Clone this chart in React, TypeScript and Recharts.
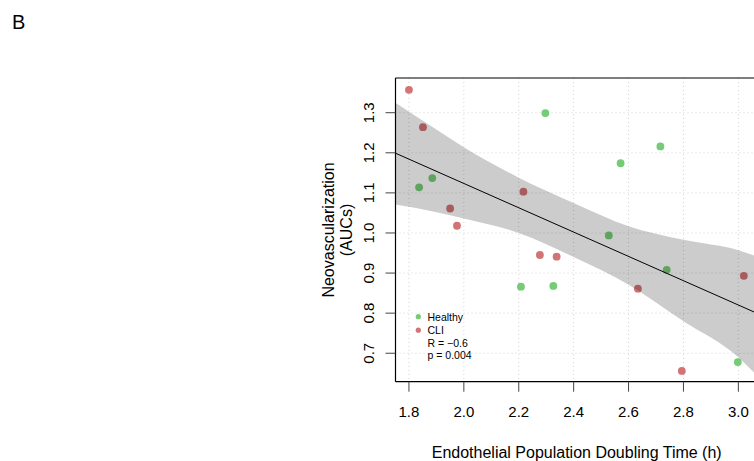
import {
  ComposedChart,
  Scatter,
  Area,
  Line,
  XAxis,
  YAxis,
  CartesianGrid,
  ReferenceLine,
} from "recharts";

const FONT = "'Liberation Sans', Arial, Helvetica, sans-serif";

// doubling time (h) vs neovascularization AUC
const healthyX = [2.297, 2.716, 2.571, 1.885, 1.837, 2.528, 2.739, 2.208, 2.326, 2.998];
const healthyY = [1.299, 1.216, 1.174, 1.137, 1.114, 0.994, 0.908, 0.866, 0.868, 0.678];
const cliX = [1.8, 1.851, 2.217, 1.95, 1.975, 2.277, 2.338, 3.02, 2.634, 2.794];
const cliY = [1.357, 1.264, 1.103, 1.061, 1.018, 0.945, 0.941, 0.893, 0.861, 0.656];

// confidence band of the linear fit, read at a few x positions
const bandX = [1.751, 1.9, 2.0, 2.2, 2.4, 2.6, 2.8, 3.0, 3.057];
const bandUpper = [1.325, 1.258, 1.214, 1.138, 1.075, 1.017, 0.983, 0.957, 0.944];
const bandLower = [1.071, 1.052, 1.036, 1.0, 0.94, 0.871, 0.78, 0.69, 0.652];

// fitted line end points
const fitX = [1.751, 3.057];
const fitY = [1.199, 0.803];

const xTicks = [1.8, 2.0, 2.2, 2.4, 2.6, 2.8, 3.0];
const yTicks = [0.7, 0.8, 0.9, 1.0, 1.1, 1.2, 1.3];
const xDomain = [1.751, 3.057];
const yDomain = [0.629, 1.3866];

const HEALTHY = "#76cc76";
const CLI = "#d27474";

const healthy = healthyX.map((x, i) => ({ x, y: healthyY[i] }));
const cli = cliX.map((x, i) => ({ x, y: cliY[i] }));
const band = bandX.map((x, i) => ({ x, range: [bandLower[i], bandUpper[i]] }));
const fit = fitX.map((x, i) => ({ x, y: fitY[i] }));

const dot = (color: string) => (p: any) => (
  <circle cx={p.cx} cy={p.cy} r={3.9} fill={color} />
);

const YTick = ({ x, y, payload }: any) => (
  <text
    x={x - 9.5}
    y={y}
    transform={`rotate(-90 ${x - 9.5} ${y})`}
    textAnchor="middle"
    fontSize={15}
    fontFamily={FONT}
    fill="#000"
  >
    {Number(payload.value).toFixed(1)}
  </text>
);

export default function App() {
  return (
    <div
      style={{
        position: "absolute",
        left: 0,
        top: 0,
        width: 754,
        height: 461,
        overflow: "hidden",
        background: "#fff",
        fontFamily: FONT,
      }}
    >
      <ComposedChart
        width={754}
        height={461}
        data={band}
        margin={{ top: 78, right: 0, bottom: 39.3, left: 300 }}
      >
        <CartesianGrid
          stroke="#d3d3d3"
          strokeDasharray="1 3"
          horizontalValues={yTicks}
          verticalValues={xTicks}
        />
        <XAxis
          type="number"
          dataKey="x"
          domain={xDomain}
          ticks={xTicks}
          allowDataOverflow
          height={40}
          tickSize={10}
          tickMargin={15}
          tickFormatter={(v: number) => v.toFixed(1)}
          tick={{ fontSize: 15, fill: "#000", fontFamily: FONT }}
          stroke="#000"
          tickLine={{ stroke: "#444" }}
          axisLine={{ stroke: "#000", strokeWidth: 1.2 }}
        />
        <YAxis
          type="number"
          domain={yDomain}
          ticks={yTicks}
          allowDataOverflow
          width={95.5}
          tickSize={10}
          tickMargin={2}
          tick={<YTick />}
          tickLine={{ stroke: "#444" }}
          axisLine={{ stroke: "#000", strokeWidth: 1.2 }}
        />
        <ReferenceLine y={yDomain[1]} stroke="#000" strokeWidth={1.2} ifOverflow="extendDomain" />
        <Scatter
          name="Healthy"
          data={healthy}
          dataKey="y"
          shape={dot(HEALTHY)}
          zIndex={500}
          isAnimationActive={false}
        />
        <Scatter
          name="CLI"
          data={cli}
          dataKey="y"
          shape={dot(CLI)}
          zIndex={500}
          isAnimationActive={false}
        />
        {/* the band is drawn over the points, which darkens those inside it */}
        <Area
          dataKey="range"
          type="monotone"
          stroke="none"
          fill="#000"
          fillOpacity={0.2}
          zIndex={700}
          isAnimationActive={false}
        />
        <Line
          data={fit}
          dataKey="y"
          stroke="#000"
          strokeWidth={1}
          dot={false}
          activeDot={false}
          zIndex={800}
          isAnimationActive={false}
        />
      </ComposedChart>
      <svg
        width={754}
        height={461}
        style={{ position: "absolute", left: 0, top: 0, pointerEvents: "none" }}
        fontFamily={FONT}
      >
        <text x={12} y={28.5} fontSize={20} fill="#000">
          B
        </text>
        <text
          x={333.5}
          y={230}
          transform="rotate(-90 333.5 230)"
          textAnchor="middle"
          fontSize={16}
          fill="#000"
        >
          Neovascularization
        </text>
        <text
          x={351.5}
          y={230}
          transform="rotate(-90 351.5 230)"
          textAnchor="middle"
          fontSize={16}
          fill="#000"
        >
          (AUCs)
        </text>
        <text x={576.7} y={458} textAnchor="middle" fontSize={16} fill="#000">
          Endothelial Population Doubling Time (h)
        </text>
        <circle cx={418.3} cy={316.7} r={2.6} fill={HEALTHY} />
        <circle cx={418.3} cy={330.2} r={2.6} fill={CLI} />
        <g fontSize={10.5} fill="#000">
          <text x={427.5} y={320.8}>Healthy</text>
          <text x={427.5} y={334.3}>CLI</text>
          <text x={427.5} y={346.8}>R = −0.6</text>
          <text x={427.5} y={358.6}>p = 0.004</text>
        </g>
      </svg>
    </div>
  );
}
